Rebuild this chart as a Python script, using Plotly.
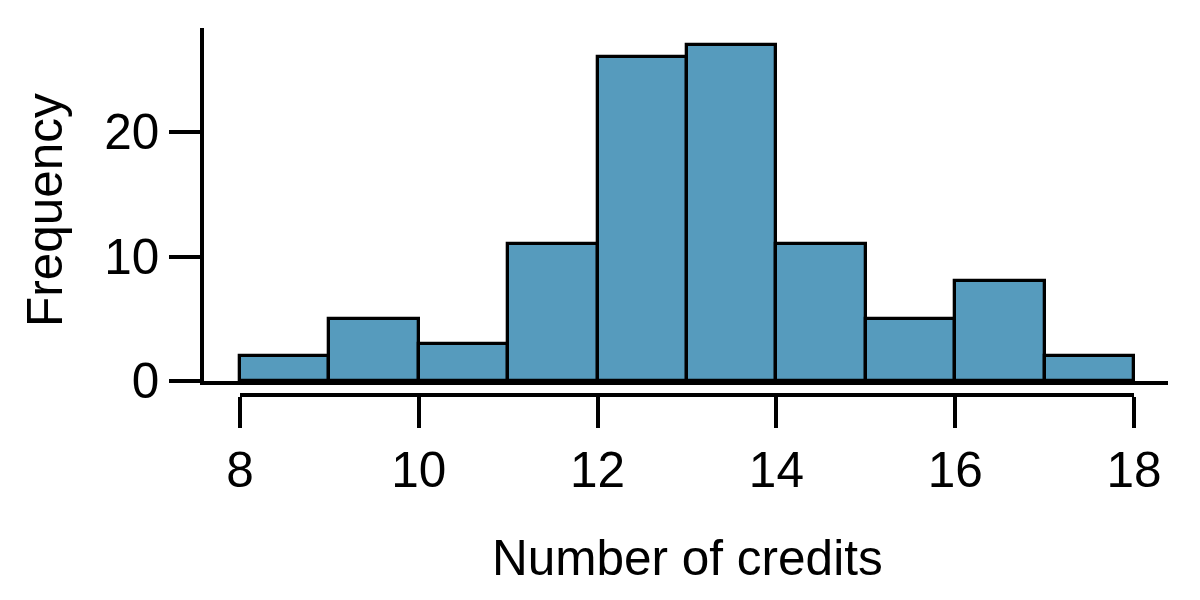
import plotly.graph_objects as go

# Data
bin_left = [8, 9, 10, 11, 12, 13, 14, 15, 16, 17]
counts = [2, 5, 3, 11, 26, 27, 11, 5, 8, 2]
x_ticks = [8, 10, 12, 14, 16, 18]
y_ticks = [0, 10, 20]
x_title = "Number of credits"
y_title = "Frequency"

W, H = 1200, 600
FONT = "Liberation Sans, Arial, Helvetica, sans-serif"
FS = 49.5
BAR_COLOR = "#569BBD"
LW = 3.6

centers = [b + 0.5 for b in bin_left]

fig = go.Figure()
fig.add_trace(go.Bar(
    x=centers, y=counts, width=[1] * len(counts),
    marker=dict(color=BAR_COLOR, line=dict(color="black", width=3.3)),
    xaxis="x", yaxis="y", hoverinfo="skip", showlegend=False,
))
# invisible trace to create the tick axis subplot
fig.add_trace(go.Scatter(
    x=[x_ticks[0], x_ticks[-1]], y=[None, None], mode="markers",
    xaxis="x2", yaxis="y", hoverinfo="skip", showlegend=False,
))

px_per_unit = (1134 - 240) / 10.0
x_lo = 8 - (240 - 204) / px_per_unit
x_hi = 18 + (1168 - 1134) / px_per_unit
px_per_y = (381 - 132) / 20.0
y_hi = (381 - 28) / px_per_y

fig.update_layout(
    template="none",
    width=W, height=H, autosize=False,
    margin=dict(l=0, r=0, t=0, b=0, pad=0, autoexpand=False),
    paper_bgcolor="white", plot_bgcolor="rgba(0,0,0,0)",
    bargap=0, showlegend=False,
    font=dict(family=FONT, size=FS, color="black"),
    xaxis=dict(
        domain=[204 / W, 1168 / W], range=[x_lo, x_hi], anchor="y",
        automargin=False,
        showline=True, linecolor="black", linewidth=LW,
        ticks="", showticklabels=False, showgrid=False, zeroline=False,
    ),
    yaxis=dict(
        domain=[1 - 381 / H, 1 - 28 / H], range=[0, y_hi], anchor="x",
        automargin=False,
        showline=True, linecolor="black", linewidth=LW,
        ticks="outside", ticklen=31, tickwidth=LW, tickcolor="black",
        tickvals=y_ticks, ticktext=[str(v) for v in y_ticks],
        tickfont=dict(family=FONT, size=FS, color="black"),
        showgrid=False, zeroline=False,
    ),
    xaxis2=dict(
        domain=[240 / W, 1134 / W], range=[8, 18], anchor="free",
        position=1 - 395 / H, automargin=False,
        showline=True, linecolor="black", linewidth=LW,
        ticks="outside", ticklen=31, tickwidth=LW, tickcolor="black",
        tickvals=x_ticks, ticktext=[str(v) for v in x_ticks],
        tickfont=dict(family=FONT, size=FS, color="black"),
        showgrid=False, zeroline=False,
    ),
    annotations=[
        dict(text=x_title, x=687 / W, y=1 - 557 / H, xref="paper", yref="paper",
             xanchor="center", yanchor="middle", showarrow=False,
             font=dict(family=FONT, size=FS, color="black")),
        dict(text=y_title, x=44 / W, y=1 - 210 / H, xref="paper", yref="paper",
             xanchor="center", yanchor="middle", showarrow=False, textangle=-90,
             font=dict(family=FONT, size=FS, color="black")),
    ],
)

fig.write_html("out.html")
